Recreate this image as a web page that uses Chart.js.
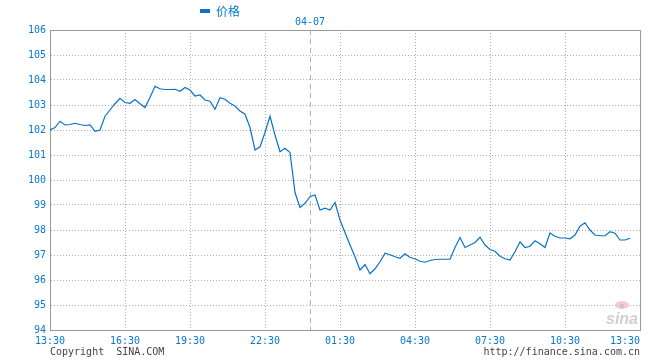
<!DOCTYPE html>
<html>
<head>
<meta charset="utf-8">
<script src="https://cdn.jsdelivr.net/npm/chart.js@4.4.1/dist/chart.umd.min.js"></script>
<style>
html, body { margin: 0; padding: 0; background: #fff; }
</style>
</head>
<body>
<canvas id="myChart" width="660" height="360"></canvas>
<script>
// price samples, evenly spaced along the session
const prices = [
    102.0, 102.1, 102.35, 102.2, 102.22, 102.27, 102.22, 102.18, 102.2, 101.95,
    102.0, 102.55, 102.8, 103.05, 103.27, 103.1, 103.07, 103.22, 103.05, 102.9,
    103.3, 103.75, 103.65, 103.62, 103.62, 103.63, 103.55, 103.7, 103.6, 103.36,
    103.4, 103.2, 103.15, 102.83, 103.29, 103.23, 103.07, 102.96, 102.76, 102.63,
    102.1, 101.2, 101.33, 101.9, 102.55, 101.8, 101.13, 101.27, 101.1, 99.5,
    98.9, 99.07, 99.33, 99.4, 98.8, 98.87, 98.8, 99.1, 98.4, 97.9,
    97.4, 96.93, 96.4, 96.62, 96.25, 96.45, 96.73, 97.07, 97.01, 96.93,
    96.87, 97.05, 96.9, 96.85, 96.75, 96.71, 96.78, 96.82, 96.83, 96.83,
    96.83, 97.3, 97.7, 97.3, 97.4, 97.5, 97.71, 97.4, 97.22, 97.15,
    96.95, 96.85, 96.8, 97.13, 97.53, 97.3, 97.35, 97.57, 97.45, 97.3,
    97.88, 97.75, 97.68, 97.68, 97.65, 97.8, 98.15, 98.29, 98.0, 97.8,
    97.77, 97.77, 97.93, 97.87, 97.6, 97.6, 97.67
];
const timeLabels = ['13:30', '16:30', '19:30', '22:30', '01:30', '04:30', '07:30', '10:30', '13:30'];
const timeTicks = [0, 15, 28, 43, 58, 73, 88, 103, 118];
const dateLabel = '04-07';
const dateTick = 52;
const yMin = 94;
const yMax = 106;

const blue = '#0a78cf';
const lineColor = '#0b73c6';
const gridColor = '#ababab';
const frameColor = '#9a9a9a';
const monoFont = '10px "DejaVu Sans Mono"';

const overlay = {
    id: 'overlay',
    beforeDatasetsDraw(chart) {
        // sina watermark
        const ctx = chart.ctx;
        ctx.save();
        ctx.fillStyle = '#f6caca';
        ctx.beginPath();
        ctx.ellipse(622, 305, 7, 4, 0, 0, Math.PI * 2);
        ctx.fill();
        ctx.fillStyle = '#c4c4c4';
        ctx.beginPath();
        ctx.arc(622, 306, 2, 0, Math.PI * 2);
        ctx.fill();
        ctx.font = 'italic bold 16px "Liberation Sans"';
        ctx.fillStyle = '#cfcfcf';
        ctx.textAlign = 'right';
        ctx.textBaseline = 'alphabetic';
        ctx.fillText('sina', 638, 324);
        ctx.restore();
    },
    afterDraw(chart) {
        const ctx = chart.ctx;
        const xs = chart.scales.x;
        const ds = chart.data.datasets[0];
        ctx.save();
        // legend
        ctx.fillStyle = ds.borderColor;
        ctx.fillRect(200, 9, 10, 4);
        ctx.font = '12px "Noto Sans CJK SC"';
        ctx.textBaseline = 'middle';
        ctx.textAlign = 'left';
        ctx.fillStyle = blue;
        ctx.fillText(ds.label, 216, 11);
        // date over the dashed line
        ctx.font = monoFont;
        ctx.textAlign = 'center';
        ctx.fillText(dateLabel, xs.getPixelForValue(dateTick), 22);
        // time labels
        timeTicks.forEach((v, i) => {
            const last = i === timeTicks.length - 1;
            ctx.textAlign = last ? 'right' : 'center';
            ctx.fillText(timeLabels[i], xs.getPixelForValue(v), 341);
        });
        // footer
        ctx.fillStyle = '#444';
        ctx.textAlign = 'left';
        ctx.fillText('Copyright  SINA.COM', 50, 352);
        ctx.textAlign = 'right';
        ctx.fillText('http://finance.sina.com.cn', 640, 352);
        ctx.restore();
    }
};

const ctx = document.getElementById('myChart').getContext('2d');
const myChart = new Chart(ctx, {
    type: 'line',
    data: {
        datasets: [{
            label: '价格',
            data: prices.map((v, i) => ({ x: i, y: v })),
            borderColor: lineColor,
            borderWidth: 1.2,
            pointRadius: 0,
            tension: 0,
            fill: false
        }]
    },
    options: {
        responsive: false,
        animation: false,
        devicePixelRatio: 1,
        layout: { padding: { top: 30, right: 20, left: 0, bottom: 0 } },
        plugins: {
            legend: { display: false },
            tooltip: { enabled: false }
        },
        scales: {
            x: {
                type: 'linear',
                min: 0,
                max: timeTicks[timeTicks.length - 1],
                afterBuildTicks: (scale) => {
                    scale.ticks = timeTicks.concat([dateTick]).sort((a, b) => a - b).map(v => ({ value: v }));
                },
                afterFit: (scale) => { scale.height = 30; },
                ticks: { display: false },
                grid: {
                    drawTicks: false,
                    color: (c) => (c.tick && c.tick.value === dateTick) ? '#b4b4b4'
                        : (c.tick && c.tick.value === timeTicks[timeTicks.length - 1]) ? frameColor : gridColor
                },
                border: {
                    color: frameColor,
                    width: 1,
                    dash: (c) => (c.tick && c.tick.value === dateTick) ? [5, 4]
                        : (c.tick && c.tick.value === timeTicks[timeTicks.length - 1]) ? [] : [1, 2]
                }
            },
            y: {
                min: yMin,
                max: yMax,
                afterFit: (scale) => { scale.width = 50; },
                ticks: {
                    stepSize: 1,
                    color: blue,
                    padding: 4,
                    font: { family: 'DejaVu Sans Mono', size: 10 }
                },
                grid: {
                    drawTicks: false,
                    color: (c) => (c.tick && c.tick.value === yMax) ? frameColor : gridColor
                },
                border: {
                    color: frameColor,
                    width: 1,
                    dash: (c) => (c.tick && c.tick.value === yMax) ? [] : [1, 2]
                }
            }
        }
    },
    plugins: [overlay]
});
</script>
</body>
</html>
